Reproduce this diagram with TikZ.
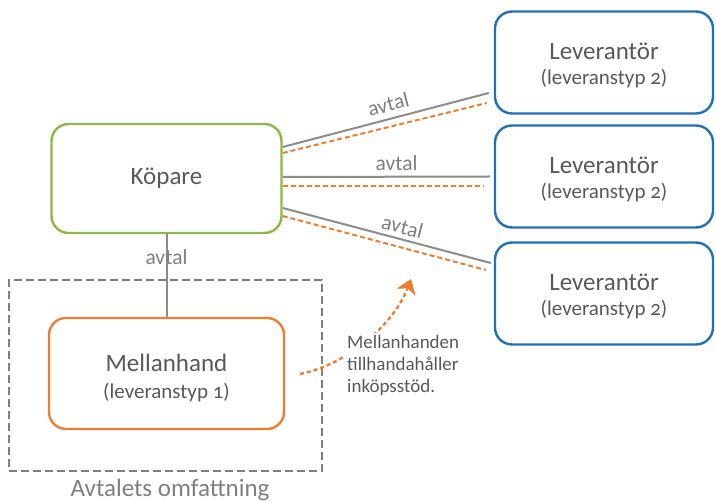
\documentclass[tikz,border=0pt]{standalone}
\usepackage{fontspec}
\setmainfont{Carlito}[Numbers=OldStyle]
\usetikzlibrary{arrows.meta}
\definecolor{kgreen}{HTML}{8CB848}
\definecolor{lblue}{HTML}{2270B8}
\definecolor{morange}{HTML}{ED7D31}
\definecolor{lgray}{HTML}{8C8C8C}
\definecolor{tgray}{HTML}{595959}
\definecolor{agray}{HTML}{7F7F7F}
\newcommand{\mainfs}{\fontsize{25}{26}\selectfont}
\newcommand{\subfs}{\fontsize{21}{24}\selectfont}
\tikzset{
  box/.style={draw, line width=2.4pt, rounded corners=17pt, fill=white, text=tgray, align=center, inner sep=0pt, font=\mainfs},
  kopbox/.style={box, draw=kgreen, minimum width=230pt, minimum height=109pt},
  levbox/.style={box, draw=lblue, minimum width=218pt, minimum height=102pt},
  melbox/.style={box, draw=morange, minimum width=235pt, minimum height=111pt},
  avline/.style={draw=lgray, line width=2pt},
  ordash/.style={draw=morange, line width=2pt, dash pattern=on 5pt off 3pt},
  avlabel/.style={text=agray, font=\fontsize{21.5}{24}\selectfont, inner sep=1pt},
  scopebox/.style={draw=agray, line width=2.4pt, dash pattern=on 8pt off 4pt, minimum width=313pt, minimum height=191pt, inner sep=0pt},
}
\begin{document}
\begin{tikzpicture}[x=1pt, y=-1pt]
\useasboundingbox (0,0) rectangle (716,502);
% nodes
\node[kopbox] (kop) at (166.5,178.5) {Köpare};
\node[levbox] (lev1) at (604,62.5) {\rule{0pt}{23pt}Leverantör\\[-1pt]{\subfs (leveranstyp 2)}};
\node[levbox] (lev2) at (604,176.5) {\rule{0pt}{23pt}Leverantör\\[-1pt]{\subfs (leveranstyp 2)}};
\node[levbox] (lev3) at (604,293.5) {\rule{0pt}{23pt}Leverantör\\[-1pt]{\subfs (leveranstyp 2)}};
\node[scopebox] (scope) at (165.5,375.5) {};
\node[melbox] (mel) at (166.5,373.5) {\rule{0pt}{27pt}Mellanhand\\[1pt]{\subfs (leveranstyp 1)}};
\node[text=agray, font=\mainfs, inner sep=0pt, anchor=base] (scopelbl) at (170,497) {Avtalets omfattning};
% connectors Köpare - Leverantör
\draw[avline] ([yshift=31.5pt]kop.east) -- node[avlabel, sloped, above=5pt, pos=0.53] {avtal} ([xshift=-5pt,yshift=-30.5pt]lev1.west);
\draw[ordash] ([yshift=25.5pt]kop.east) -- ([xshift=-7pt,yshift=-40.5pt]lev1.west);
\draw[avline] ([yshift=1.5pt]kop.east) -- node[avlabel, above=4pt, pos=0.55] {avtal} ([xshift=-4pt]lev2.west);
\draw[ordash] ([yshift=-7.5pt]kop.east) -- ([xshift=-10pt,yshift=-9.5pt]lev2.west);
\draw[avline] ([yshift=-29.5pt]kop.east) -- node[avlabel, sloped, above=3pt, pos=0.56] {avtal} ([xshift=-3pt,yshift=30.5pt]lev3.west);
\draw[ordash] ([yshift=-37.5pt]kop.east) -- ([xshift=-8pt,yshift=23.5pt]lev3.west);
% Köpare - Mellanhand
\draw[avline] (kop.south) -- node[avlabel, pos=0.28] {avtal} (mel.north);
% support arrow
\coordinate (cs) at (300,374);
\coordinate (ce) at (411,279);
\draw[morange, line width=2.4pt, dash pattern=on 4pt off 3pt, -{Stealth[length=14pt, width=20pt, inset=4pt]}]
  (cs) .. controls (350,364) and (395,322) .. (ce);
\node[fill=white, text=tgray, align=left, anchor=west, inner sep=2pt, font=\fontsize{19}{22}\selectfont] (info) at (345,365)
  {Mellanhanden\\tillhandahåller\\inköpsstöd.};
\end{tikzpicture}
\end{document}
